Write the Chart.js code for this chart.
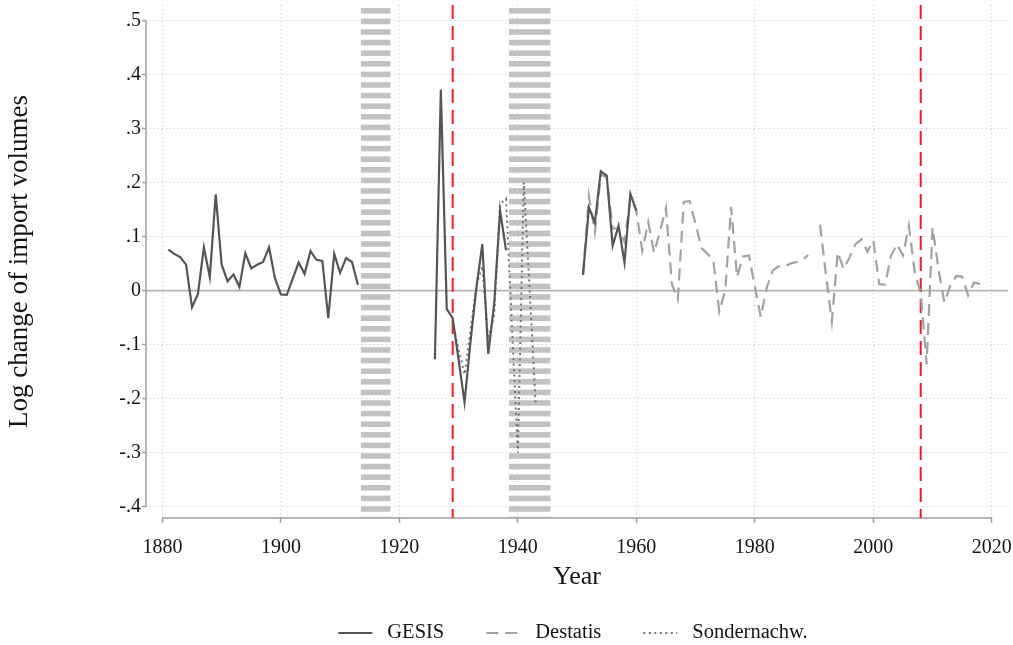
<!DOCTYPE html>
<html lang="en">
<head>
<meta charset="UTF-8">
<title>Log change of import volumes</title>
<style>
    html, body {
        margin: 0;
        padding: 0;
        background: #ffffff;
    }
    #importChart {
        display: block;
    }
</style>
<script src="https://cdn.jsdelivr.net/npm/chart.js"></script>
</head>
<body>

<canvas id="importChart" width="1013" height="645"></canvas>

<script>
// GESIS series (null = break in the series)
var gesisYears = [
    1881, 1882, 1883, 1884, 1885, 1886, 1887, 1888, 1889, 1890,
    1891, 1892, 1893, 1894, 1895, 1896, 1897, 1898, 1899, 1900,
    1901, 1902, 1903, 1904, 1905, 1906, 1907, 1908, 1909, 1910,
    1911, 1912, 1913, 1914,
    1926, 1927, 1928, 1929, 1930, 1931, 1932, 1933, 1934, 1935,
    1936, 1937, 1938, 1939,
    1951, 1952, 1953, 1954, 1955, 1956, 1957, 1958, 1959, 1960
];
var gesisValues = [
    0.076, 0.068, 0.062, 0.048, -0.031, -0.006, 0.080, 0.025, 0.178, 0.048,
    0.017, 0.030, 0.007, 0.069, 0.041, 0.048, 0.053, 0.080, 0.023, -0.007,
    -0.008, 0.022, 0.052, 0.031, 0.073, 0.057, 0.055, -0.051, 0.068, 0.033,
    0.060, 0.053, 0.011, null,
    -0.127, 0.372, -0.034, -0.051, -0.128, -0.207, -0.095, 0.005, 0.086, -0.117,
    -0.025, 0.148, 0.075, null,
    0.029, 0.154, 0.126, 0.221, 0.213, 0.083, 0.120, 0.052, 0.179, 0.148
];

// Destatis series, no value for 1990
var destatisYears = [
    1951, 1952, 1953, 1954, 1955, 1956, 1957, 1958, 1959, 1960,
    1961, 1962, 1963, 1964, 1965, 1966, 1967, 1968, 1969, 1970,
    1971, 1972, 1973, 1974, 1975, 1976, 1977, 1978, 1979, 1980,
    1981, 1982, 1983, 1984, 1985, 1986, 1987, 1988, 1989, 1990,
    1991, 1992, 1993, 1994, 1995, 1996, 1997, 1998, 1999, 2000,
    2001, 2002, 2003, 2004, 2005, 2006, 2007, 2008, 2009, 2010,
    2011, 2012, 2013, 2014, 2015, 2016, 2017, 2018
];
var destatisValues = [
    0.030, 0.175, 0.108, 0.215, 0.210, 0.115, 0.115, 0.090, 0.172, 0.148,
    0.074, 0.127, 0.070, 0.110, 0.153, 0.012, -0.016, 0.164, 0.166, 0.123,
    0.079, 0.068, 0.056, -0.039, 0.000, 0.155, 0.025, 0.063, 0.065, 0.008,
    -0.049, 0.005, 0.037, 0.045, 0.044, 0.050, 0.053, 0.056, 0.066, null,
    0.122, 0.030, -0.057, 0.071, 0.040, 0.062, 0.086, 0.095, 0.072, 0.093,
    0.012, 0.011, 0.065, 0.086, 0.065, 0.120, 0.034, -0.005, -0.136, 0.117,
    0.040, -0.022, 0.009, 0.027, 0.026, -0.009, 0.015, 0.012
];

// Sondernachweis series
var sonderYears = [
    1929, 1930, 1931, 1932, 1933, 1934, 1935, 1936, 1937, 1938,
    1939, 1940, 1941, 1942, 1943
];
var sonderValues = [
    -0.060, -0.110, -0.155, -0.075, 0.010, 0.045, -0.090, -0.045, 0.160, 0.170,
    -0.065, -0.300, 0.200, 0.000, -0.210
];

// shaded war years and crisis markers
var warYears1 = [1914, 1915, 1916, 1917, 1918];
var warYears2 = [1939, 1940, 1941, 1942, 1943, 1944, 1945];
var crisisYears = [1929, 2008];

// axes
var xTicks = [1880, 1900, 1920, 1940, 1960, 1980, 2000, 2020];
var yTicks = [-0.4, -0.3, -0.2, -0.1, 0, 0.1, 0.2, 0.3, 0.4, 0.5];
var yTickLabels = ['-.4', '-.3', '-.2', '-.1', '0', '.1', '.2', '.3', '.4', '.5'];

var FONT = '"Liberation Serif", "Times New Roman", serif';
var TEXT = '#151515';
var AXIS = '#a0a0a0';

function toPoints(years, values) {
    return years.map(function(y, i) {
        return { x: y, y: values[i] };
    });
}

// war years: thick dashed grey bands, one year wide per year
function drawWarBand(chart, years) {
    var ctx = chart.ctx;
    var area = chart.chartArea;
    var xs = chart.scales.x;
    var x0 = xs.getPixelForValue(years[0] - 0.5);
    var x1 = xs.getPixelForValue(years[years.length - 1] + 0.5);
    ctx.save();
    ctx.fillStyle = '#c2c2c2';
    for (var y = area.top + 3; y < area.bottom; y += 10.6) {
        var h = Math.min(5.6, area.bottom - y);
        ctx.fillRect(x0, y, x1 - x0, h);
    }
    ctx.restore();
}

var framePlugin = {
    id: 'frame',
    beforeDraw: function(chart) {
        drawWarBand(chart, warYears1);
        drawWarBand(chart, warYears2);
    },
    beforeDatasetsDraw: function(chart) {
        var ctx = chart.ctx;
        var area = chart.chartArea;
        var xs = chart.scales.x;
        var ys = chart.scales.y;
        ctx.save();

        // zero line
        var y0 = ys.getPixelForValue(0);
        ctx.strokeStyle = '#b4b4b4';
        ctx.lineWidth = 1.8;
        ctx.beginPath();
        ctx.moveTo(area.left, y0);
        ctx.lineTo(area.right, y0);
        ctx.stroke();

        // axis lines, only over the tick range
        ctx.strokeStyle = AXIS;
        ctx.lineWidth = 1.5;
        ctx.beginPath();
        ctx.moveTo(area.left, ys.getPixelForValue(yTicks[yTicks.length - 1]));
        ctx.lineTo(area.left, ys.getPixelForValue(yTicks[0]));
        ctx.moveTo(xs.getPixelForValue(xTicks[0]), area.bottom);
        ctx.lineTo(xs.getPixelForValue(xTicks[xTicks.length - 1]), area.bottom);
        ctx.stroke();

        // crisis years
        ctx.strokeStyle = '#e8202a';
        ctx.lineWidth = 2;
        ctx.setLineDash([14, 7]);
        crisisYears.forEach(function(yr) {
            var x = xs.getPixelForValue(yr);
            ctx.beginPath();
            ctx.moveTo(x, area.top);
            ctx.lineTo(x, area.bottom);
            ctx.stroke();
        });
        ctx.restore();
    },
    afterDraw: function(chart) {
        // legend row under the plot
        var ctx = chart.ctx;
        var area = chart.chartArea;
        var sets = chart.data.datasets;
        var sample = 34, gapText = 15, gapItem = 42;
        ctx.save();
        ctx.font = '20.5px ' + FONT;
        var widths = sets.map(function(ds) {
            return sample + gapText + ctx.measureText(ds.label).width;
        });
        var total = widths.reduce(function(a, b) { return a + b; }, 0) + gapItem * (sets.length - 1);
        var x = (area.left + area.right) / 2 - total / 2 - 4;
        var y = chart.height - 12;
        sets.forEach(function(ds, i) {
            ctx.strokeStyle = ds.borderColor;
            ctx.lineWidth = ds.borderWidth;
            ctx.setLineDash(ds.borderDash || []);
            ctx.beginPath();
            ctx.moveTo(x, y);
            ctx.lineTo(x + sample, y);
            ctx.stroke();
            ctx.setLineDash([]);
            ctx.fillStyle = TEXT;
            ctx.textAlign = 'left';
            ctx.textBaseline = 'middle';
            ctx.fillText(ds.label, x + sample + gapText, y);
            x += widths[i] + gapItem;
        });
        ctx.restore();
    }
};

var ctx = document.getElementById('importChart').getContext('2d');

new Chart(ctx, {
    type: 'line',
    data: {
        datasets: [{
            label: 'GESIS',
            data: toPoints(gesisYears, gesisValues),
            borderColor: '#555555',
            borderWidth: 2.2,
            pointRadius: 0,
            tension: 0
        }, {
            label: 'Destatis',
            data: toPoints(destatisYears, destatisValues),
            borderColor: '#a2a2a2',
            borderWidth: 2.2,
            borderDash: [12, 7],
            pointRadius: 0,
            tension: 0
        }, {
            label: 'Sondernachw.',
            data: toPoints(sonderYears, sonderValues),
            borderColor: '#747474',
            borderWidth: 2,
            borderDash: [2, 3.5],
            pointRadius: 0,
            tension: 0
        }]
    },
    options: {
        responsive: false,
        animation: false,
        events: [],
        layout: {
            padding: { top: 5, right: 5, bottom: 50, left: 0 }
        },
        plugins: {
            legend: { display: false },
            tooltip: { enabled: false }
        },
        scales: {
            x: {
                type: 'linear',
                min: 1877.232,
                max: 2022.735,
                afterBuildTicks: function(scale) {
                    scale.ticks = xTicks.map(function(v) { return { value: v }; });
                },
                afterFit: function(scale) {
                    // fixed box, labels may overhang the plot edges
                    scale.height = 77;
                    scale.paddingLeft = 0;
                    scale.paddingRight = 0;
                },
                grid: {
                    color: '#c4c4c4',
                    lineWidth: 1,
                    tickLength: 5,
                    tickColor: AXIS,
                    tickWidth: 1.5,
                    tickBorderDash: []
                },
                border: { display: false, dash: [1, 3] },
                ticks: {
                    color: TEXT,
                    font: { family: FONT, size: 20 },
                    padding: 13,
                    maxRotation: 0,
                    callback: function(v) { return String(v); }
                },
                title: {
                    display: true,
                    text: 'Year',
                    color: TEXT,
                    font: { family: FONT, size: 26, lineHeight: 1.2 },
                    padding: { top: 0, bottom: 2 }
                }
            },
            y: {
                type: 'linear',
                min: -0.4209,
                max: 0.5287,
                afterBuildTicks: function(scale) {
                    scale.ticks = yTicks.map(function(v) { return { value: v }; });
                },
                afterFit: function(scale) {
                    scale.width = 146;
                    scale.paddingTop = 0;
                    scale.paddingBottom = 0;
                },
                grid: {
                    color: '#c4c4c4',
                    lineWidth: 1,
                    tickLength: 4,
                    tickColor: AXIS,
                    tickWidth: 1.5,
                    tickBorderDash: []
                },
                border: { display: false, dash: [1, 3] },
                ticks: {
                    color: TEXT,
                    font: { family: FONT, size: 20 },
                    padding: 1,
                    callback: function(v) {
                        var i = yTicks.indexOf(v);
                        return i >= 0 ? yTickLabels[i] : '';
                    }
                },
                title: {
                    display: true,
                    text: 'Log change of import volumes',
                    color: TEXT,
                    font: { family: FONT, size: 27, lineHeight: 1.2 },
                    padding: { top: 4, bottom: 0 }
                }
            }
        }
    },
    plugins: [framePlugin]
});
</script>
</body>
</html>
